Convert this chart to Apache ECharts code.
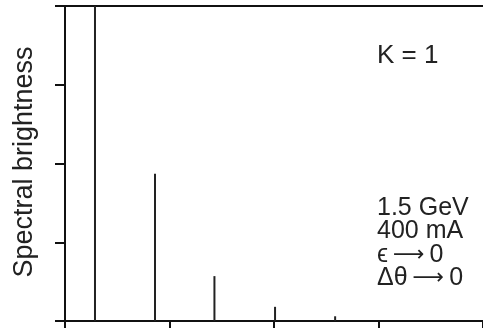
<!DOCTYPE html>
<html><head><meta charset="utf-8">
<script src="https://cdn.jsdelivr.net/npm/echarts@6/dist/echarts.min.js"></script>
<style>html,body{margin:0;padding:0;background:#fff}#c{width:483px;height:328px}</style>
</head><body><div id="c"></div>
<script>
// Harmonic peak positions (photon energy, arbitrary units) and spectral brightness heights
const peakEnergy = [0.287, 0.861, 1.43, 2.01, 2.585];
const peakHeight = [4.0, 1.87, 0.57, 0.18, 0.06];
const yAxisTitle = 'Spectral brightness';
const paramLabel = 'K = 1';
const conditions = ['1.5 GeV', '400 mA', '\u03F5|0', '\u0394\u03B8|0'];

const chart = echarts.init(document.getElementById('c'));
const font = '"Liberation Sans", Arial, sans-serif';
const axisLine = {show: true, lineStyle: {color: '#111', width: 2}};
function condText(t) {
  const p = t.split('|');
  return p.length === 1 ? p[0] : p[0] + '\u2009{a|\u27F6}\u2009' + p[1];
}
chart.setOption({
  animation: false,
  grid: {left: 65, right: 0, top: 6, bottom: 7},
  xAxis: [{
    type: 'value', min: 0, max: 4, interval: 1,
    axisLine: axisLine,
    axisTick: {show: true, inside: false, length: 8, lineStyle: {color: '#111', width: 2}},
    axisLabel: {show: false}, splitLine: {show: false}
  }, {
    type: 'value', position: 'top', min: 0, max: 4,
    axisLine: axisLine, axisTick: {show: false}, axisLabel: {show: false}, splitLine: {show: false}
  }],
  yAxis: {
    type: 'value', min: 0, max: 4, interval: 1,
    axisLine: axisLine,
    axisTick: {show: true, inside: false, length: 10, lineStyle: {color: '#111', width: 2}},
    axisLabel: {show: false}, splitLine: {show: false}
  },
  series: [{
    type: 'bar', xAxisIndex: 0, barWidth: 2,
    itemStyle: {color: '#222'},
    data: peakEnergy.map((e, i) => [e, peakHeight[i]])
  }],
  graphic: [
    {type: 'text', x: 25, y: 162, rotation: Math.PI / 2,
     style: {text: yAxisTitle, font: '27px ' + font, fill: '#222', align: 'center', verticalAlign: 'middle'}},
    {type: 'text', x: 377, y: 56,
     style: {text: paramLabel, font: '26px ' + font, fill: '#222', align: 'left', verticalAlign: 'middle'}}
  ].concat(conditions.map((t, i) => ({
    type: 'text', x: 377, y: 208 + i * 23.5,
    style: {text: condText(t), font: '25px ' + font, fill: '#222', align: 'left', verticalAlign: 'middle',
      rich: {a: {fontFamily: '"DejaVu Sans"', fontSize: 22, fill: '#222'}}}
  })))
});
</script></body></html>
